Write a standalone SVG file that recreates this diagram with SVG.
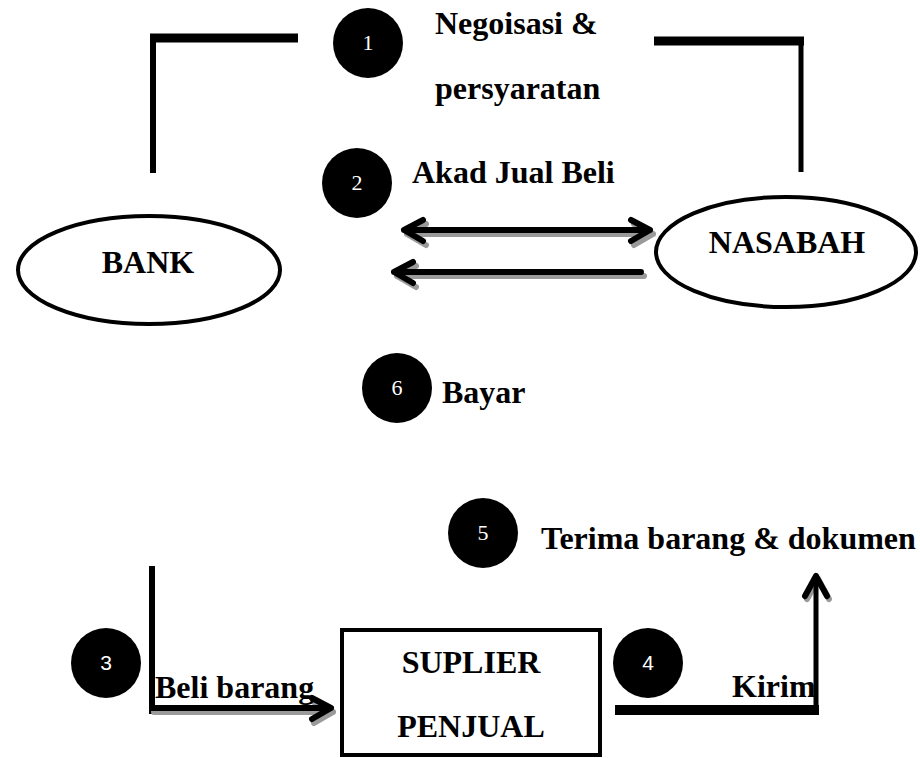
<svg xmlns="http://www.w3.org/2000/svg" width="920" height="758" viewBox="0 0 920 758">
<defs>
<style>
.lbl{font-family:"Liberation Serif","Times New Roman",serif;font-weight:bold;font-size:32px;fill:#000}
.num{font-family:"Liberation Serif","Times New Roman",serif;font-size:22px;fill:#fff;text-anchor:middle}
.nums{font-family:"Liberation Sans",Arial,sans-serif;font-size:21px;fill:#fff;text-anchor:middle}
.dot{fill:#000}
.node{fill:#fff;stroke:#000;stroke-width:4}
.ln{fill:none;stroke:#000;stroke-linecap:butt;stroke-linejoin:miter}
.arr{fill:none;stroke:#000;stroke-width:6;stroke-linecap:round;stroke-linejoin:round}
.sh{fill:none;stroke:#9a9a9a;stroke-width:6;stroke-linecap:round;stroke-linejoin:round}
</style>
</defs>
<rect width="920" height="758" fill="#fff"/>

<g id="connectors">
  <path class="ln" d="M153,173 V38" stroke-width="6"/>
  <path class="ln" d="M150,38 H298" stroke-width="9"/>
  <path class="ln" d="M654,41 H804" stroke-width="9"/>
  <path class="ln" d="M801,41 V172" stroke-width="5"/>
  <g transform="translate(3,4)">
    <path class="sh" d="M404,230 H650 M423,220 L404,230 L423,241 M631,220 L650,230 L631,241"/>
    <path class="sh" d="M394,272 H641 M413,262 L394,272 L413,283"/>
  </g>
  <path class="arr" d="M404,230 H650 M423,220 L404,230 L423,241 M631,220 L650,230 L631,241"/>
  <path class="arr" d="M394,272 H641 M413,262 L394,272 L413,283"/>
  <path class="ln" d="M152,566 V714" stroke-width="6"/>
  <g transform="translate(2,4)">
    <path class="sh" d="M152,708 H331 M312,698 L331,708 L312,719"/>
  </g>
  <path class="ln" d="M149,708 H331" stroke-width="6"/>
  <path class="arr" d="M312,698 L331,708 L312,719"/>
  <path class="ln" d="M615,710 H819" stroke-width="10"/>
  <path class="sh" transform="translate(2,3)" d="M805,596 L816,576 L827,596"/>
  <path class="ln" d="M816,715 V576" stroke-width="5"/>
  <path class="arr" d="M805,596 L816,576 L827,596" stroke-width="5"/>
</g>

<g id="bank">
  <ellipse class="node" cx="149" cy="270" rx="131" ry="54"/>
  <text class="lbl" x="148" y="273" text-anchor="middle">BANK</text>
</g>

<g id="nasabah">
  <ellipse class="node" cx="786" cy="252" rx="130" ry="55"/>
  <text class="lbl" x="787" y="253" text-anchor="middle">NASABAH</text>
</g>

<g id="suplier">
  <rect class="node" x="342" y="630" width="258" height="125" stroke-width="5"/>
  <text class="lbl" x="471" y="673" text-anchor="middle">SUPLIER</text>
  <text class="lbl" x="471" y="737" text-anchor="middle">PENJUAL</text>
</g>

<g id="step1">
  <circle class="dot" cx="368" cy="43" r="35"/>
  <text class="num" x="368" y="50">1</text>
  <text class="lbl" x="435" y="34">Negoisasi &amp;</text>
  <text class="lbl" x="435" y="99">persyaratan</text>
</g>

<g id="step2">
  <circle class="dot" cx="357" cy="183" r="35"/>
  <text class="num" x="357" y="190">2</text>
  <text class="lbl" x="412" y="183">Akad Jual Beli</text>
</g>

<g id="step3">
  <circle class="dot" cx="106" cy="663" r="35"/>
  <text class="nums" x="106" y="670">3</text>
  <text class="lbl" x="155" y="698">Beli barang</text>
</g>

<g id="step4">
  <circle class="dot" cx="648" cy="663" r="35"/>
  <text class="nums" x="648" y="670">4</text>
  <text class="lbl" x="732" y="697">Kirim</text>
</g>

<g id="step5">
  <circle class="dot" cx="483" cy="533" r="35"/>
  <text class="num" x="483" y="540">5</text>
  <text class="lbl" x="541" y="549">Terima barang &amp; dokumen</text>
</g>

<g id="step6">
  <circle class="dot" cx="397" cy="388" r="35"/>
  <text class="num" x="397" y="395">6</text>
  <text class="lbl" x="442" y="403">Bayar</text>
</g>
</svg>
